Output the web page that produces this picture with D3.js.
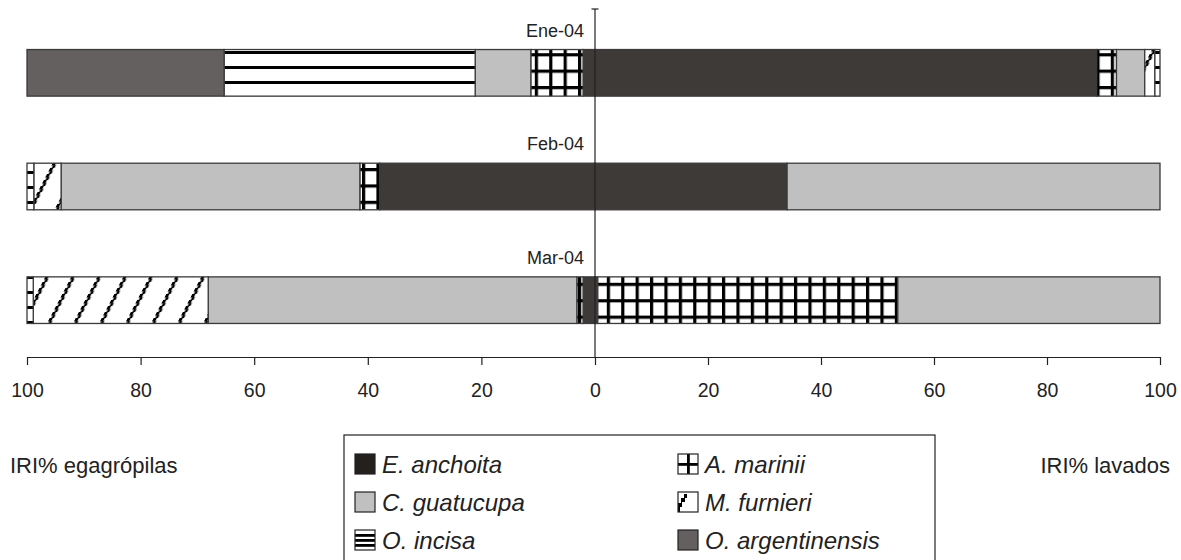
<!DOCTYPE html>
<html><head><meta charset="utf-8">
<script src="https://cdn.jsdelivr.net/npm/d3@7"></script>
<style>
body{margin:0;background:#fff;}
svg{display:block;font-family:"Liberation Sans",Arial,sans-serif;}
</style></head>
<body>
<svg id="chart" width="1181" height="560"></svg>
<script>
const months = ["Ene-04", "Feb-04", "Mar-04"];
const species = ["E. anchoita", "A. marinii", "C. guatucupa", "M. furnieri", "O. incisa", "O. argentinensis"];
// IRI% egagrópilas (left side), per month, in species order
const egagropilas = [
  [2.1, 9.2, 9.8, 0, 44.2, 34.7],
  [37.9, 3.5, 52.6, 4.8, 1.2, 0],
  [2.1, 1.1, 64.9, 30.8, 1.1, 0]
];
// IRI% lavados (right side)
const lavados = [
  [88.8, 3.5, 5.0, 1.8, 0.9, 0],
  [34.0, 0, 66.0, 0, 0, 0],
  [0.5, 53.1, 46.4, 0, 0, 0]
];
const tickValues = [0, 20, 40, 60, 80, 100];
const leftTitle = "IRI% egagrópilas";
const rightTitle = "IRI% lavados";

const svg = d3.select("#chart");
const defs = svg.append("defs");

// patterns
const pInc = defs.append("pattern").attr("id", "p-incisa").attr("patternUnits", "userSpaceOnUse")
  .attr("width", 8).attr("height", 15).attr("y", 1);
pInc.append("rect").attr("width", 8).attr("height", 15).attr("fill", "#fff");
pInc.append("rect").attr("y", 5).attr("width", 8).attr("height", 3).attr("fill", "#000");

const pMar = defs.append("pattern").attr("id", "p-marinii").attr("patternUnits", "userSpaceOnUse")
  .attr("width", 14.4).attr("height", 16.4).attr("x", 2).attr("y", 4);
pMar.append("rect").attr("width", 14.4).attr("height", 16.4).attr("fill", "#fff");
pMar.append("rect").attr("x", 0).attr("width", 3.2).attr("height", 16.4).attr("fill", "#000");
pMar.append("rect").attr("y", 0).attr("width", 14.4).attr("height", 3.2).attr("fill", "#000");

const pFur = defs.append("pattern").attr("id", "p-furnieri").attr("patternUnits", "userSpaceOnUse")
  .attr("width", 26).attr("height", 6).attr("patternTransform", "skewX(-27.6)");
pFur.append("rect").attr("width", 26).attr("height", 6).attr("fill", "#fff");
pFur.append("rect").attr("x", 8).attr("y", 0).attr("width", 3.2).attr("height", 3.5).attr("fill", "#000");
pFur.append("rect").attr("x", 9.5).attr("y", 3).attr("width", 2.8).attr("height", 3).attr("fill", "#000");

// legend-size patterns
const lInc = defs.append("pattern").attr("id", "l-incisa").attr("patternUnits", "objectBoundingBox")
  .attr("width", 1).attr("height", 1).attr("patternContentUnits", "objectBoundingBox");
lInc.append("rect").attr("width", 1).attr("height", 1).attr("fill", "#fff");
[0.2, 0.45, 0.7].forEach(v => lInc.append("rect").attr("y", v).attr("width", 1).attr("height", 0.14).attr("fill", "#000"));
const lMar = defs.append("pattern").attr("id", "l-marinii").attr("patternUnits", "objectBoundingBox")
  .attr("width", 1).attr("height", 1).attr("patternContentUnits", "objectBoundingBox");
lMar.append("rect").attr("width", 1).attr("height", 1).attr("fill", "#fff");
lMar.append("rect").attr("x", 0.45).attr("width", 0.14).attr("height", 1).attr("fill", "#000");
lMar.append("rect").attr("y", 0.45).attr("width", 1).attr("height", 0.14).attr("fill", "#000");
const lFur = defs.append("pattern").attr("id", "l-furnieri").attr("patternUnits", "objectBoundingBox")
  .attr("width", 1).attr("height", 1).attr("patternContentUnits", "objectBoundingBox");
lFur.append("rect").attr("width", 1).attr("height", 1).attr("fill", "#fff");
lFur.append("path").attr("d", "M0,1 L0,0.55 L0.15,0.55 L0.15,0.3 L0.3,0.3 L0.3,0.1 L0.45,0.1 L0.45,0.3 L0.35,0.3 L0.35,0.5 L0.2,0.5 L0.2,0.75 L0.1,0.75 L0.1,1 Z").attr("fill", "#000");

const fills = {
  "E. anchoita": "#3e3a37",
  "A. marinii": "url(#p-marinii)",
  "C. guatucupa": "#c0c0c0",
  "M. furnieri": "url(#p-furnieri)",
  "O. incisa": "url(#p-incisa)",
  "O. argentinensis": "#646060"
};
const legendFills = Object.assign({}, fills, {
  "E. anchoita": "#24201d",
  "A. marinii": "url(#l-marinii)",
  "M. furnieri": "url(#l-furnieri)",
  "O. incisa": "url(#l-incisa)"
});

const cx = 595, xl = 27, xr = 1160, axisY = 357;
const xLeft = d3.scaleLinear().domain([0, 100]).range([cx, xl]);
const xRight = d3.scaleLinear().domain([0, 100]).range([cx, xr]);
const y = d3.scaleBand().domain(months).range([16, axisY]).paddingInner(0.59).paddingOuter(0.295);

function toRows(arr) {
  return months.map((m, i) => {
    const o = { month: m };
    species.forEach((s, j) => o[s] = arr[i][j]);
    return o;
  });
}
const stack = d3.stack().keys(species);
const leftSeries = stack(toRows(egagropilas));
const rightSeries = stack(toRows(lavados));

function drawSide(series, x, cls) {
  const g = svg.append("g").attr("class", cls);
  series.forEach(s => {
    g.selectAll(null).data(s.filter(d => d[1] - d[0] > 0)).enter().append("rect")
      .attr("x", d => Math.min(x(d[0]), x(d[1])))
      .attr("width", d => Math.abs(x(d[1]) - x(d[0])))
      .attr("y", d => y(d.data.month))
      .attr("height", y.bandwidth())
      .attr("fill", fills[s.key])
      .attr("stroke", "#3a3a3a")
      .attr("stroke-width", 1.3);
  });
}
drawSide(leftSeries, xLeft, "left");
drawSide(rightSeries, xRight, "right");

// vertical center axis
svg.append("line").attr("x1", cx).attr("x2", cx).attr("y1", 9).attr("y2", axisY)
  .attr("stroke", "#222").attr("stroke-width", 1.2);
svg.append("line").attr("x1", cx - 3.5).attr("x2", cx + 3.5).attr("y1", 9).attr("y2", 9)
  .attr("stroke", "#222").attr("stroke-width", 1.2);

// category labels
svg.append("g").selectAll("text").data(months).enter().append("text")
  .attr("x", 584).attr("y", d => y(d) - 13).attr("text-anchor", "end")
  .attr("font-size", 18).attr("fill", "#222").text(d => d);

// bottom axes
const axL = d3.axisBottom(xLeft).tickValues(tickValues.filter(v => v > 0)).tickSize(8).tickPadding(18).tickSizeOuter(0);
const axR = d3.axisBottom(xRight).tickValues(tickValues).tickSize(8).tickPadding(18).tickSizeOuter(0);
[axL, axR].forEach(ax => {
  const g = svg.append("g").attr("transform", `translate(0,${axisY})`).call(ax);
  g.select(".domain").attr("stroke", "#222").attr("stroke-width", 1.2);
  g.selectAll(".tick line").attr("stroke", "#222").attr("stroke-width", 1.2);
  g.selectAll(".tick text").attr("font-size", 19.5).attr("fill", "#222")
    .attr("font-family", "Liberation Sans, Arial, sans-serif");
});

// axis titles
svg.append("text").attr("x", 10).attr("y", 473).attr("font-size", 22).attr("fill", "#222").text(leftTitle);
svg.append("text").attr("x", 1170).attr("y", 473).attr("text-anchor", "end").attr("font-size", 22).attr("fill", "#222").text(rightTitle);

// legend
const lg = svg.append("g");
lg.append("rect").attr("x", 344).attr("y", 435).attr("width", 591).attr("height", 140)
  .attr("fill", "#fff").attr("stroke", "#222").attr("stroke-width", 1.2);
const legCols = [355, 678];
const legRows = [464, 502, 540];
species.forEach((s, i) => {
  const col = i % 2, row = Math.floor(i / 2);
  const gx = legCols[col], gy = legRows[row];
  lg.append("rect").attr("x", gx).attr("y", gy - 10).attr("width", 20).attr("height", 20)
    .attr("fill", legendFills[s]).attr("stroke", "#222").attr("stroke-width", 1.2);
  lg.append("text").attr("x", gx + 27).attr("y", gy + 9).attr("font-size", 24)
    .attr("font-style", "italic").attr("fill", "#222").text(s);
});
</script>
</body></html>
